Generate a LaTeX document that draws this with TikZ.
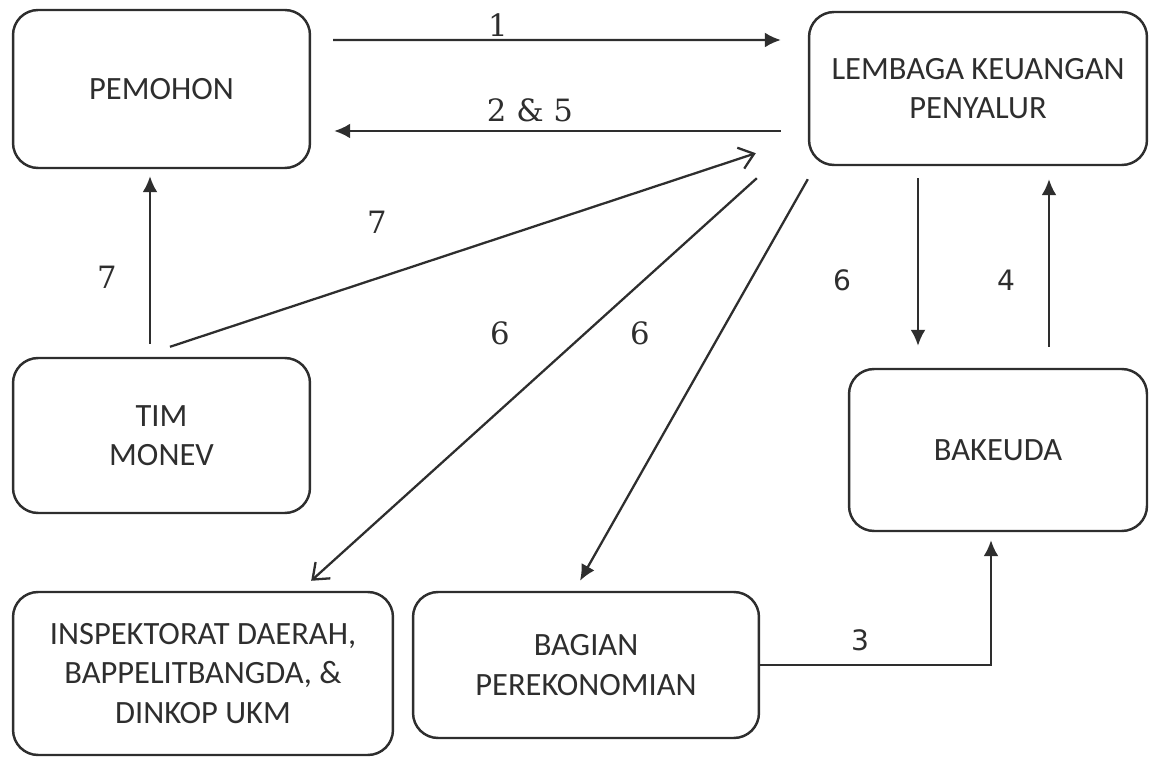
\documentclass[tikz,border=0pt]{standalone}
\usepackage{fontspec}
\setmainfont{DejaVu Serif}
\setsansfont{Carlito}
\newfontfamily\numsans{DejaVu Sans}
\usetikzlibrary{arrows.meta,calc}
\definecolor{ink}{HTML}{2E2E2E}

\begin{document}
\begin{tikzpicture}[x=0.02cm, y=0.02cm, font=\sffamily,
	box/.style={draw=ink, line width=1.4pt, rounded corners=0.5cm, align=center, text=ink,
		font=\sffamily\fontsize{18.5}{22.5}\selectfont, inner sep=0pt},
	fwd/.style={draw=ink, line width=1.3pt, -{Latex[length=0.32cm,width=0.3cm]}},
	opn/.style={draw=ink, line width=1.3pt, -{Straight Barb[length=0.28cm,width=0.44cm]}},
	num/.style={text=ink, font=\fontsize{17.5}{20}\selectfont},
	nums/.style={text=ink, font=\numsans\fontsize{16}{18}\selectfont}]
	\useasboundingbox (0,0) rectangle (1150,758);
	%boxes
	\node[box, minimum width=5.94cm, minimum height=3.16cm] (pemohon) at (161.5,669) {PEMOHON};
	\node[box, minimum width=6.76cm, minimum height=3.06cm] (lembaga) at (978,669.5) {LEMBAGA KEUANGAN\\PENYALUR};
	\node[box, minimum width=5.94cm, minimum height=3.10cm] (monev) at (161.5,322.5) {TIM\\MONEV};
	\node[box, minimum width=5.96cm, minimum height=3.24cm] (bakeuda) at (998,308) {BAKEUDA};
	\node[box, minimum width=7.6cm, minimum height=3.26cm] (inspektorat) at (203,84.5) {INSPEKTORAT DAERAH,\\BAPPELITBANGDA, \&\\DINKOP UKM};
	\node[box, minimum width=6.92cm, minimum height=2.92cm] (bagian) at (586,93) {BAGIAN\\PEREKONOMIAN};
	%arrows
	\draw[fwd] ($(pemohon.east)+(22,49)$) -- ($(lembaga.west)+(-27,48.5)$);
	\draw[fwd] ($(lembaga.west)+(-27,-42.5)$) -- ($(pemohon.east)+(23,-42)$);
	\draw[fwd] ($(monev.north)+(-11.5,13)$) -- ($(pemohon.south)+(-11.5,-7)$);
	\draw[opn] ($(monev.north)+(8.5,10)$) -- ($(lembaga.south west)+(-52,13)$);
	\draw[opn] ($(lembaga.south west)+(-51,-12)$) -- ($(inspektorat.north east)+(-83,10)$);
	\draw[fwd] ($(lembaga.south west)+(0,-13)$) -- ($(bagian.north)+(-6,10)$);
	\draw[fwd] ($(lembaga.south)+(-60,-12)$) -- ($(bakeuda.north)+(-80,22)$);
	\draw[fwd] ($(bakeuda.north)+(51,21)$) -- ($(lembaga.south)+(71,-13)$);
	\draw[fwd] (bagian.east) -| ($(bakeuda.south)+(-7,-8)$);
	%labels
	\node[num] (l1) at (498,733) {1};
	\node[num] (l25) at (530,648) {2 \& 5};
	\node[num] (l7a) at (107,481) {7};
	\node[num] (l7b) at (377,536) {7};
	\node[num] (l6a) at (500,425) {6};
	\node[num] (l6b) at (640,425) {6};
	\node[nums] (l6c) at (842,478) {6};
	\node[nums] (l4) at (1006,478) {4};
	\node[nums] (l3) at (860,118) {3};
\end{tikzpicture}
\end{document}
